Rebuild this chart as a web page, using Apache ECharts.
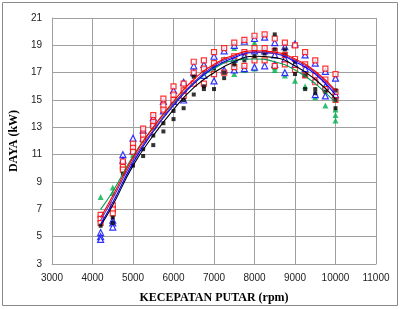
<!DOCTYPE html>
<html>
<head>
<meta charset="UTF-8">
<title>Daya vs Kecepatan Putar</title>
	<script src="https://cdn.jsdelivr.net/npm/echarts@6/dist/echarts.min.js"></script>
	<style>
		html, body { margin: 0; padding: 0; background: #fff; }
	</style>
</head>
<body>
	<div id="main" style="width: 401px;height:309px;"></div>
	<script type="text/javascript">
		// measured rpm columns
		var rpm = [4200,4500,4750,5000,5250,5500,5750,6000,6250,6500,6750,7000,7250,7500,7750,8000,8250,8500,8750,9000,9250,9500,9750,10000];

		// measured power (kW), three runs per series
		var redRun1 = [6.6,7.3,10.5,11.8,12.9,13.9,15.1,16.0,16.2,17.8,17.9,18.5,18.8,19.2,19.4,19.7,19.8,19.5,19.2,19.0,18.5,17.9,17.3,16.9];
		var redRun2 = [6.3,7.0,10.1,11.5,12.4,13.4,14.6,15.4,15.7,17.0,17.3,17.7,17.9,18.2,18.5,18.8,18.8,18.6,18.3,18.0,17.6,16.8,16.5,15.6];
		var redRun3 = [6.0,6.7,9.9,11.2,12.1,13.1,14.3,15.0,15.3,16.2,16.2,16.9,17.0,17.4,17.5,17.9,17.9,17.5,17.6,17.2,16.8,16.3,15.8,15.0];

		var blueRun1 = [5.3,6.2,11.0,12.2,12.8,13.7,14.9,15.7,16.3,17.5,17.6,18.2,18.6,19.0,19.3,19.5,19.6,19.2,18.9,19.1,18.3,17.7,17.1,16.6];
		var blueRun2 = [5.0,6.0,10.6,11.3,12.2,13.3,14.2,14.9,15.0,17.0,16.8,16.4,17.2,18.0,18.2,18.6,18.6,18.3,18.0,17.6,17.3,16.5,16.0,15.4];
		var blueRun3 = [4.8,5.7,null,null,null,null,null,null,null,null,null,null,null,17.2,17.3,17.4,17.5,17.6,17.0,null,null,15.4,15.3,null];

		var blackRun1 = [5.8,6.4,9.6,10.2,11.4,12.4,13.3,14.2,15.0,16.7,16.0,17.3,17.0,17.6,17.9,18.2,18.4,19.8,18.7,17.8,16.8,15.8,15.6,15.7];
		var blackRun2 = [null,6.0,null,null,10.9,11.7,12.7,13.6,14.4,15.4,15.8,15.8,16.6,null,null,null,null,18.7,18.3,16.9,15.8,15.5,null,15.0];
		var blackRun3 = [null,null,null,null,null,null,null,null,null,null,null,null,null,null,null,null,null,null,null,null,null,null,null,14.4];

		var greenRun1 = [7.9,8.6,10.3,11.0,12.2,13.0,14.4,15.2,15.8,16.9,17.2,17.6,18.0,18.8,18.4,19.2,18.6,17.4,16.8,16.4,16.0,15.2,14.6,14.3];
		var greenRun2 = [null,8.2,null,null,null,null,null,null,null,null,null,null,null,17.9,17.2,17.3,null,17.2,null,null,null,null,null,13.9];
		var greenRun3 = [null,null,null,null,null,null,null,null,null,null,null,null,null,16.9,null,null,null,null,null,null,null,null,null,13.5];

		// trend curves
		var lineRpm = [4200,4500,5000,5500,6000,6500,7000,7500,8000,8500,9000,9500,10000];
		var redLine    = [6.4,8.0,10.8,13.0,14.9,16.5,17.6,18.3,18.6,18.5,18.0,17.1,15.7];
		var purpleLine = [6.2,7.8,10.6,12.8,14.7,16.3,17.5,18.2,18.5,18.4,17.9,17.0,15.6];
		var blueLine   = [5.9,7.5,10.4,12.7,14.6,16.2,17.4,18.1,18.5,18.4,17.8,16.9,15.4];
		var blackLine  = [5.8,7.3,10.2,12.4,14.3,15.9,17.0,17.8,18.2,18.1,17.5,16.5,15.1];
		var greenLine  = [7.0,8.3,10.9,13.0,14.8,16.2,17.3,17.9,18.0,17.8,17.2,16.2,14.8];

		function pts(runs){
			var out = [];
			runs.forEach(function(r){
				r.forEach(function(v, i){
					if (v !== null) out.push([rpm[i], v]);
				});
			});
			return out;
		}
		function curve(vals){
			return vals.map(function(v, i){ return [lineRpm[i], v]; });
		}
		function trend(vals, color){
			return {
				type: 'line', data: curve(vals), smooth: true, showSymbol: false,
				lineStyle: { color: color, width: 1.1 }, z: 5, silent: true
			};
		}

		var myChart = echarts.init(document.getElementById('main'));
		var grayLine = { color: '#a0a0a0', width: 1 };
		var option = {
			animation: false,
			grid: { left: 48, right: 25, top: 18, bottom: 40 },
			graphic: [{
				type: 'rect', shape: { x: 2.5, y: 2.5, width: 395, height: 303 },
				style: { fill: 'none', stroke: '#8a8a8a', lineWidth: 1 }
			}],
			xAxis: {
				type: 'value', min: 3000, max: 11000, interval: 1000,
				name: 'KECEPATAN PUTAR (rpm)', nameLocation: 'middle', nameGap: 28,
				nameTextStyle: { fontFamily: 'Liberation Serif', fontWeight: 'bold', fontSize: 12, color: '#000' },
				axisLine: { lineStyle: grayLine }, axisTick: { show: false },
				splitLine: { lineStyle: grayLine },
				axisLabel: { fontFamily: 'Liberation Sans', fontSize: 10, color: '#222', margin: 9,
					formatter: function(v){ return String(v); } }
			},
			yAxis: {
				type: 'value', min: 3, max: 21, interval: 2,
				name: 'DAYA (kW)', nameLocation: 'middle', nameGap: 27, nameRotate: 90,
				nameTextStyle: { fontFamily: 'Liberation Serif', fontWeight: 'bold', fontSize: 12, color: '#000' },
				axisLine: { show: true, lineStyle: grayLine }, axisTick: { show: false },
				splitLine: { lineStyle: grayLine },
				axisLabel: { fontFamily: 'Liberation Sans', fontSize: 10, color: '#222', margin: 10 }
			},
			series: [
				{ type: 'scatter', data: pts([greenRun1, greenRun2, greenRun3]), symbol: 'triangle', symbolSize: 6,
				  itemStyle: { color: '#00b050' } },
				{ type: 'scatter', data: pts([blueRun1, blueRun2, blueRun3]), symbol: 'triangle', symbolSize: 6,
				  itemStyle: { color: '#fff', borderColor: '#0000ff', borderWidth: 1.2 } },
				{ type: 'scatter', data: pts([redRun1, redRun2, redRun3]), symbol: 'rect', symbolSize: 5,
				  itemStyle: { color: '#fff', borderColor: '#ff0000', borderWidth: 1.2 } },
				{ type: 'scatter', data: pts([blackRun1, blackRun2, blackRun3]), symbol: 'rect', symbolSize: 4,
				  itemStyle: { color: '#000' } },
				trend(greenLine, '#00a050'),
				trend(blackLine, '#000000'),
				trend(blueLine, '#0000ff'),
				trend(purpleLine, '#7030a0'),
				trend(redLine, '#ff0000')
			]
		};
		myChart.setOption(option);
	</script>
</body>
</html>
